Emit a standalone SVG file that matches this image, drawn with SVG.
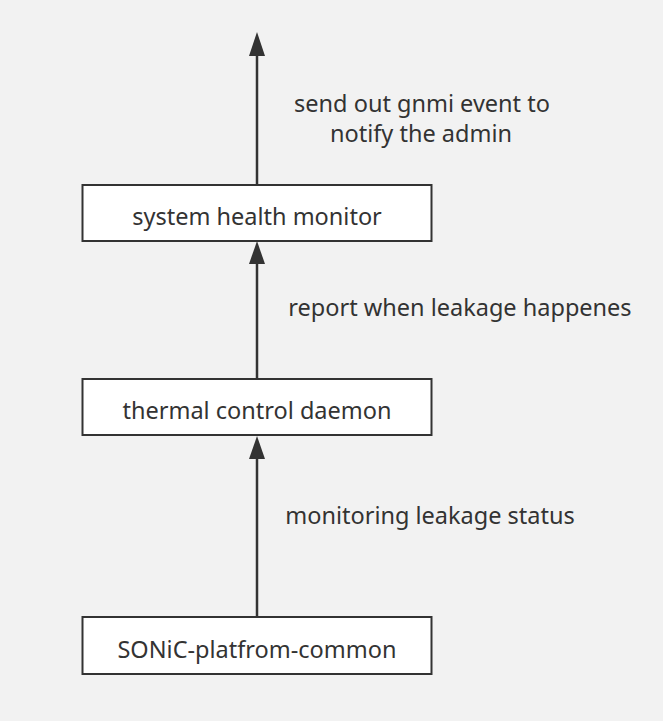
<svg xmlns="http://www.w3.org/2000/svg" width="663" height="721" viewBox="0 0 663 721">
<defs>
<style>
.box{fill:#fff;stroke:#333;stroke-width:2}
.t{font-family:"Noto Sans","Open Sans",sans-serif;font-size:23.5px;fill:#333;text-anchor:middle}
.c{stroke:#333;stroke-width:2.5;fill:none}
.ah{fill:#333}
</style>
</defs>
<rect width="663" height="721" fill="#f2f2f2"/>
<g id="connectors">
<line class="c" x1="257" y1="185" x2="257" y2="54"/>
<path class="ah" d="M249,56 L257,32 L265,56 Z"/>
<line class="c" x1="257" y1="379" x2="257" y2="262"/>
<path class="ah" d="M249,264 L257,241 L265,264 Z"/>
<line class="c" x1="257" y1="617" x2="257" y2="457"/>
<path class="ah" d="M249,459 L257,436 L265,459 Z"/>
<text class="t" x="422" y="112">send out gnmi event to</text>
<text class="t" x="421" y="142">notify the admin</text>
<text class="t" x="460" y="316">report when leakage happenes</text>
<text class="t" x="430" y="524">monitoring leakage status</text>
</g>
<g id="node-system-health-monitor">
<rect class="box" x="82.5" y="185" width="349" height="56"/>
<text class="t" x="257" y="225">system health monitor</text>
</g>
<g id="node-thermal-control-daemon">
<rect class="box" x="82.5" y="379" width="349" height="56"/>
<text class="t" x="257" y="419">thermal control daemon</text>
</g>
<g id="node-sonic-platform-common">
<rect class="box" x="82.5" y="617" width="349" height="57"/>
<text class="t" x="257" y="658">SONiC-platfrom-common</text>
</g>
</svg>
